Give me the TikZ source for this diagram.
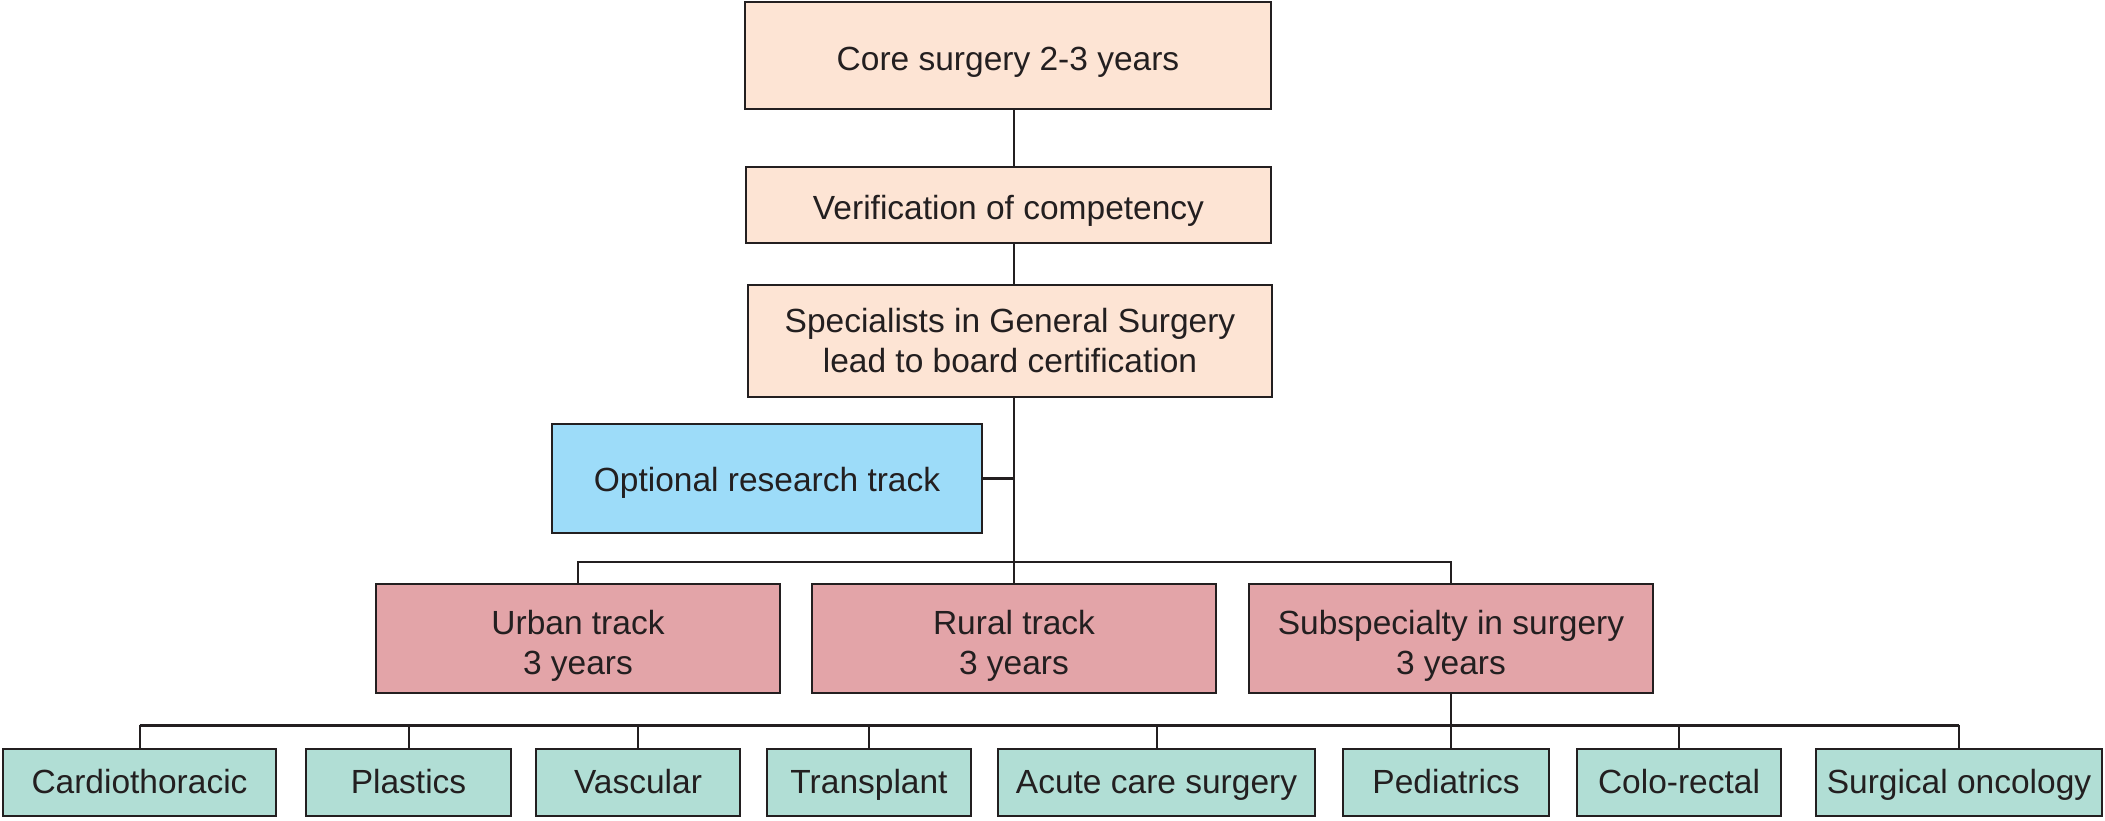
\documentclass[tikz,border=0pt]{standalone}
\usepackage{fontspec}
\setmainfont{Liberation Sans}
\definecolor{peach}{HTML}{FDE4D4}
\definecolor{skyb}{HTML}{9DDCF9}
\definecolor{rose}{HTML}{E3A4A8}
\definecolor{mint}{HTML}{B1DED5}
\definecolor{ink}{HTML}{231F20}
\newcommand{\lowstrut}{\rule{0pt}{38pt}}
\begin{document}
\begin{tikzpicture}[x=1pt,y=-1pt,
  box/.style={draw=ink,line width=2pt,rectangle,inner sep=0pt,align=center,
    text=ink,font=\fontsize{33.5}{40}\selectfont},
  pbox/.style={box,fill=peach},
  bbox/.style={box,fill=skyb},
  rbox/.style={box,fill=rose},
  mbox/.style={box,fill=mint,minimum height=67pt,text height=25pt,text depth=4pt},
  link/.style={draw=ink,line width=2pt},
  thicklink/.style={draw=ink,line width=3pt}]
\useasboundingbox (0,0) rectangle (2105,820);
\node[pbox,minimum width=526pt,minimum height=107pt,text height=34pt,text depth=4pt] (core) at (1008,55.5) {Core surgery 2-3 years};
\node[pbox,minimum width=525pt,minimum height=76pt,text height=33pt,text depth=4pt] (verif) at (1008.5,205) {Verification of competency};
\node[pbox,minimum width=524pt,minimum height=112pt] (spec) at (1010,341) {Specialists in General Surgery\\lead to board certification};
\node[bbox,minimum width=430pt,minimum height=109pt,text height=29pt,text depth=4pt] (opt) at (767,478.5) {Optional research track};
\node[rbox,minimum width=404pt,minimum height=109pt] (urban) at (578,638.5) {\lowstrut Urban track\\3 years};
\node[rbox,minimum width=404pt,minimum height=109pt] (rural) at (1014,638.5) {\lowstrut Rural track\\3 years};
\node[rbox,minimum width=404pt,minimum height=109pt] (sub) at (1451,638.5) {\lowstrut Subspecialty in surgery\\3 years};
\node[mbox,minimum width=273pt] (cardio) at (139.5,782.5) {Cardiothoracic};
\node[mbox,minimum width=205pt] (plast) at (408.5,782.5) {Plastics};
\node[mbox,minimum width=204pt] (vasc) at (638,782.5) {Vascular};
\node[mbox,minimum width=204pt] (trans) at (869,782.5) {Transplant};
\node[mbox,minimum width=317pt] (acute) at (1156.5,782.5) {Acute care surgery};
\node[mbox,minimum width=206pt] (ped) at (1446,782.5) {Pediatrics};
\node[mbox,minimum width=204pt] (colo) at (1679,782.5) {Colo-rectal};
\node[mbox,minimum width=286pt] (onc) at (1959,782.5) {Surgical oncology};
\coordinate (topbar) at (1014,562);
\coordinate (lowbar) at (1451,725);
% trunk
\draw[link] (core.south -| rural.north) -- (verif.north -| rural.north);
\draw[link] (verif.south -| rural.north) -- (spec.north -| rural.north);
\draw[link] (spec.south -| rural.north) -- (rural.north);
\draw[thicklink] (opt.east) -- (opt.east -| rural.north);
% track bar
\draw[link] (urban.north) |- (topbar) -| (sub.north);
% subspecialty bar
\draw[link] (sub.south) -- (sub.south |- ped.north);
\draw[thicklink] (cardio.north |- lowbar) -- (onc.north |- lowbar);
\foreach \b in {cardio,plast,vasc,trans,acute,colo,onc}
  \draw[link] (\b.north) -- (\b.north |- lowbar);
\end{tikzpicture}
\end{document}
